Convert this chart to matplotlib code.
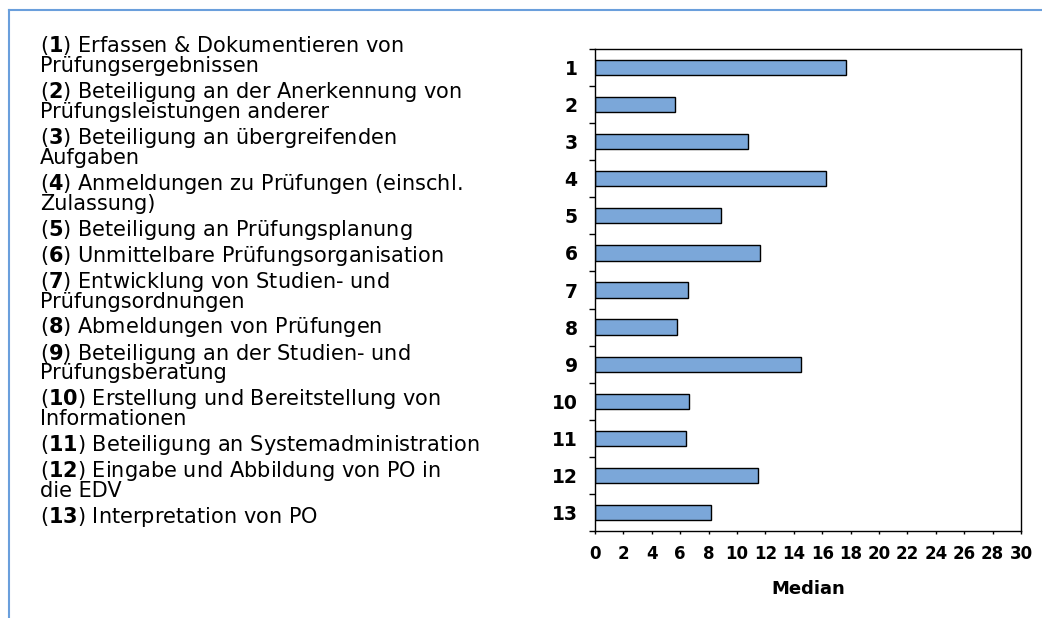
import numpy as np
import matplotlib.pyplot as plt
from matplotlib.lines import Line2D

# data
nums = list(range(1, 14))
medians = [17.7, 5.6, 10.75, 16.3, 8.9, 11.6, 6.55, 5.75, 14.5, 6.65, 6.4, 11.45, 8.15]
items = [
    "Erfassen & Dokumentieren von\nPrüfungsergebnissen",
    "Beteiligung an der Anerkennung von\nPrüfungsleistungen anderer",
    "Beteiligung an übergreifenden\nAufgaben",
    "Anmeldungen zu Prüfungen (einschl.\nZulassung)",
    "Beteiligung an Prüfungsplanung",
    "Unmittelbare Prüfungsorganisation",
    "Entwicklung von Studien- und\nPrüfungsordnungen",
    "Abmeldungen von Prüfungen",
    "Beteiligung an der Studien- und\nPrüfungsberatung",
    "Erstellung und Bereitstellung von\nInformationen",
    "Beteiligung an Systemadministration",
    "Eingabe und Abbildung von PO in\ndie EDV",
    "Interpretation von PO",
]
xticks = list(range(0, 31, 2))

W, H = 1042, 618
fig = plt.figure(figsize=(W / 100, H / 100), dpi=100)
fig.patch.set_facecolor('white')

# blue frame lines (left + top)
blue = '#6a9fdc'
fig.add_artist(Line2D([8.5 / W, 8.5 / W], [0, 1 - 10 / H], color=blue, lw=1.5))
fig.add_artist(Line2D([8.5 / W, 1], [1 - 10 / H, 1 - 10 / H], color=blue, lw=1.5))

# bar chart
ax = fig.add_axes([595 / W, 1 - 531 / H, (1021 - 595) / W, (531 - 49) / H])
y = np.arange(len(nums))
ax.barh(y, medians, height=0.41, color='#7ba7d9', edgecolor='black', linewidth=1)
ax.set_xlim(0, 30)
ax.set_ylim(len(nums) - 0.5, -0.5)
ax.set_xticks(xticks)
ax.set_xticklabels([str(t) for t in xticks], fontsize=12, fontweight='bold')
ax.set_yticks(np.arange(len(nums) + 1) - 0.5)
ax.set_yticklabels([])
ax.set_yticks(y, minor=True)
ax.set_yticklabels([str(n) for n in nums], minor=True, fontsize=13.5, fontweight='bold')
ax.tick_params(axis='y', which='major', direction='out', length=4.3, width=1)
ax.tick_params(axis='y', which='minor', length=0, pad=12.5)
ax.tick_params(axis='x', direction='out', length=2.5, width=1, pad=7.5)
for s in ax.spines.values():
    s.set_linewidth(1)
    s.set_color('black')
ax.set_xlabel('Median', fontsize=13, fontweight='bold', labelpad=12)

# legend text on the left
x0 = 40 / W
base = 52.0
for n, txt in zip(nums, items):
    lines = txt.split('\n')
    fig.text(x0, 1 - base / H, r'($\mathbf{%d}$) ' % n + lines[0],
             fontsize=15, va='baseline', ha='left')
    for extra in lines[1:]:
        base += 19.9
        fig.text(x0, 1 - base / H, extra, fontsize=15, va='baseline', ha='left')
    base += 26.0

fig.savefig('out.png', dpi=100)
